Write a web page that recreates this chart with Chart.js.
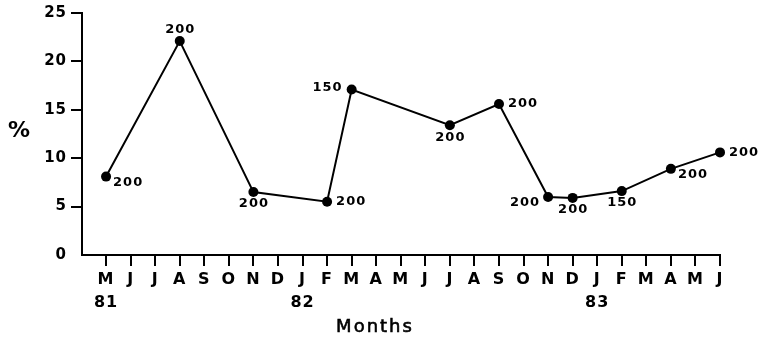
<!DOCTYPE html>
<html>
<head>
<meta charset="utf-8">
<script src="https://cdn.jsdelivr.net/npm/chart.js@4/dist/chart.umd.min.js"></script>
<style>
  html, body { margin: 0; padding: 0; background: #fff; }
  canvas { display: block; }
</style>
</head>
<body>
<canvas id="c" width="768" height="338"></canvas>
<script>
// Month initials from May 1981 to June 1983, with the year under the first month of each year
const months = ['M','J','J','A','S','O','N','D','J','F','M','A','M','J','J','A','S','O','N','D','J','F','M','A','M','J'];
const years  = ['81','','','','','','','','82','','','','','','','','','','','','83','','','','',''];

// Survey months (index into months), percentage found, and sample size for each survey
const sampleMonth = [0, 3, 6, 9, 10, 14, 16, 18, 19, 21, 23, 25];
const percent     = [8.1, 22.1, 6.5, 5.5, 17.1, 13.4, 15.6, 6.0, 5.9, 6.6, 8.9, 10.6];
const sampleSize  = [200, 200, 200, 200, 150, 200, 200, 200, 200, 150, 200, 200];

// Which side of its point each sample-size label sits on
const labelSide = ['se','n','s','e','w','s','e','sw','s','s','se','e'];

const yTicks = [0, 5, 10, 15, 20, 25];

const FONT = '"DejaVu Sans", Verdana, sans-serif';

const sideOffsets = {
  n:  { dx: 0,   dy: -11, align: 'center' },
  s:  { dx: 0,   dy: 12,  align: 'center' },
  e:  { dx: 9,   dy: 0,   align: 'left' },
  w:  { dx: -9,  dy: -2,  align: 'right' },
  se: { dx: 7,   dy: 6,   align: 'left' },
  sw: { dx: -8,  dy: 6,   align: 'right' }
};

// Slightly tracked lettering for the axis text
const tracking = {
  id: 'tracking',
  beforeDraw(chart) { chart.ctx.letterSpacing = '1px'; },
  afterDraw(chart) { chart.ctx.letterSpacing = '0px'; }
};

const sampleLabels = {
  id: 'sampleLabels',
  afterDatasetsDraw(chart) {
    const ctx = chart.ctx;
    const meta = chart.getDatasetMeta(0);
    ctx.save();
    ctx.font = 'bold 13px ' + FONT;
    ctx.letterSpacing = '1px';
    ctx.fillStyle = '#000';
    ctx.textBaseline = 'middle';
    meta.data.forEach((pt, i) => {
      const o = sideOffsets[labelSide[i]];
      ctx.textAlign = o.align;
      let x = pt.x + o.dx;
      if (o.align === 'center') x += 0.5;
      ctx.fillText(String(sampleSize[i]), x, pt.y + o.dy);
    });
    ctx.restore();
  }
};

const axisCaptions = {
  id: 'axisCaptions',
  afterDraw(chart) {
    const ctx = chart.ctx;
    ctx.save();
    ctx.fillStyle = '#000';
    ctx.strokeStyle = '#000';
    ctx.textBaseline = 'middle';
    ctx.textAlign = 'center';
    ctx.letterSpacing = '0px';
    ctx.font = 'bold 22px ' + FONT;
    ctx.fillText('%', 19, 131);
    ctx.font = '18px ' + FONT;
    ctx.letterSpacing = '2px';
    ctx.lineWidth = 0.6;
    ctx.fillText('Months', 375, 327);
    ctx.strokeText('Months', 375, 327);
    ctx.restore();
  }
};

new Chart(document.getElementById('c'), {
  type: 'line',
  data: {
    datasets: [{
      data: sampleMonth.map((m, i) => ({ x: m, y: percent[i] })),
      borderColor: '#000',
      borderWidth: 2,
      pointRadius: 5,
      pointBackgroundColor: '#000',
      pointBorderWidth: 0,
      tension: 0,
      clip: false
    }]
  },
  options: {
    responsive: false,
    animation: false,
    layout: { padding: { left: 0, top: 10, right: 48, bottom: 0 } },
    plugins: { legend: { display: false }, tooltip: { enabled: false } },
    scales: {
      x: {
        type: 'linear',
        min: -0.98,
        max: months.length - 1,
        afterBuildTicks: s => { s.ticks = months.map((_, i) => ({ value: i })); },
        afterFit: s => { s.height = 83; },
        border: { display: true, color: '#000', width: 2 },
        grid: { display: true, drawOnChartArea: false, drawTicks: true, tickLength: 11, color: '#000', lineWidth: 2 },
        ticks: {
          autoSkip: false,
          maxRotation: 0,
          padding: 2,
          color: '#000',
          font: { family: FONT, size: 16, weight: 'bold', lineHeight: 1.45 },
          callback: v => years[v] ? [months[v], years[v]] : months[v]
        }
      },
      y: {
        min: 0,
        max: 25,
        afterBuildTicks: s => { s.ticks = yTicks.map(v => ({ value: v })); },
        afterFit: s => { s.width = 82; },
        border: { display: true, color: '#000', width: 2 },
        grid: {
          display: true, drawOnChartArea: false, drawTicks: true, tickLength: 11,
          color: c => (c.tick && c.tick.value === 0) ? 'rgba(0,0,0,0)' : '#000',
          lineWidth: 2
        },
        ticks: {
          padding: 4,
          color: '#000',
          font: { family: FONT, size: 15, weight: 'bold' }
        }
      }
    }
  },
  plugins: [tracking, sampleLabels, axisCaptions]
});
</script>
</body>
</html>
